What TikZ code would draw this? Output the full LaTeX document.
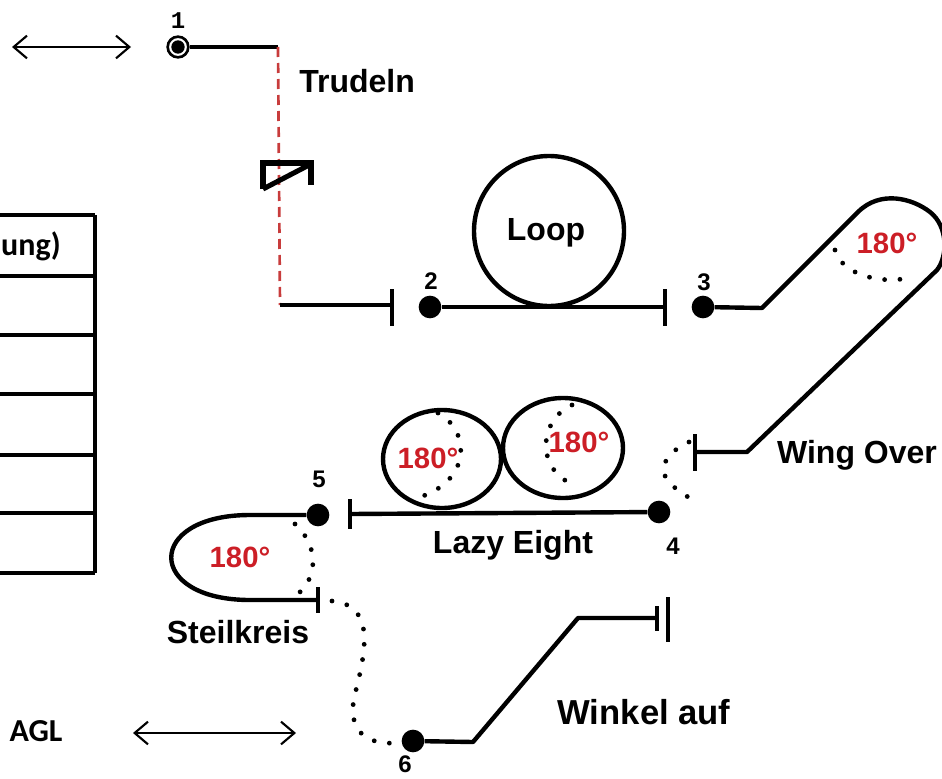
\documentclass[tikz,border=0pt]{standalone}
\usepackage{fontspec}
\setmainfont{Liberation Sans}
\setmonofont{Liberation Mono}
\newfontfamily\calfont{Carlito}
\usetikzlibrary{arrows.meta}
\definecolor{figred}{RGB}{204,30,38}
\definecolor{dashred}{RGB}{200,60,60}
\tikzset{
  flight/.style={line width=3.3pt},
  endbar/.style={line width=3.6pt},
  wpt/.style={circle,fill=black,inner sep=0pt,minimum size=17pt},
  dotarc/.style={line width=3.6pt,line cap=round,dash pattern=on 0pt off 11.5pt},
  figlabel/.style={font=\fontsize{24}{28}\selectfont\bfseries,inner sep=0.75pt},
  deg/.style={font=\fontsize{22}{26}\selectfont\bfseries,text=figred,inner sep=0.75pt},
  numlabel/.style={font=\fontsize{18}{21}\selectfont\bfseries,inner sep=0.75pt},
  gridline/.style={line width=2.3pt},
  span/.style={line width=1.6pt,{Straight Barb[length=10pt,width=17pt,line width=1.6pt]}-{Straight Barb[length=10pt,width=17pt,line width=1.6pt]}}
}
\begin{document}
\begin{tikzpicture}[x=0.75pt,y=0.75pt,yscale=-1,xscale=1]
\useasboundingbox (0,0) rectangle (942,778);

%Table (left, cut off)
\draw [gridline] (95,215) -- (95,573) ;
\foreach \yy in {215,276,335,394,455,513,573}
  \draw [gridline] (0,\yy) -- (95,\yy) ;
\node [font=\fontsize{24}{28}\selectfont\calfont\bfseries,anchor=east,inner sep=0pt] (hdr) at (61,246) {ung)};
\node [font=\fontsize{24}{28}\selectfont\calfont\bfseries,inner sep=0pt] (agl) at (36,731) {AGL};

%Altitude arrows
\coordinate (topl) at (12,47) ;
\coordinate (topr) at (131,47) ;
\draw [span] (topl) -- (topr) ;
\coordinate (botl) at (133,733) ;
\coordinate (botr) at (296,733) ;
\draw [span] (botl) -- (botr) ;

%Waypoints
\node [wpt,minimum size=10pt] (p1) at (178,47) {};
\node [circle,draw,line width=2pt,minimum size=15.5pt,inner sep=0pt] (p1ring) at (178,47) {};
\node [wpt] (p2) at (430,307) {};
\node [wpt] (p3) at (703,307) {};
\node [wpt] (p4) at (659,512) {};
\node [wpt] (p5) at (318,515) {};
\node [wpt] (p6) at (413,741) {};

% Number labels
\node [numlabel,font=\fontsize{18}{21}\selectfont\ttfamily\bfseries] (n1) at (178,21) {1};
\node [numlabel] (n2) at (431,281) {2};
\node [numlabel] (n3) at (704,282) {3};
\node [numlabel] (n4) at (673,546) {4};
\node [numlabel] (n5) at (319,479) {5};
\node [numlabel] (n6) at (405,764) {6};

%Trudeln
\coordinate (s1) at (278,47) ;
\coordinate (s2) at (280,305) ;
\coordinate (s3) at (392,305) ;
\draw [flight] (p1ring) -- (s1) ;
\draw [dashred,line width=2pt,dash pattern=on 7.5pt off 4.5pt] (s1) -- (s2) ;
\draw [flight] (s2) -- (s3) ;
\draw [endbar] (392,289) -- (392,326) ;
%Spin symbol
\draw [line width=3.8pt,line join=miter] (263,189) -- (263,163) -- (311,163) -- (311,185) ;
\draw [line width=3.8pt] (263,189) -- (311,164) ;
\node [figlabel,anchor=west] (trudeln) at (298,81) {Trudeln};

%Loop
\coordinate (l1) at (665,307) ;
\draw [flight] (p2) -- (l1) ;
\draw [endbar] (665,289) -- (665,326) ;
\draw [flight] (549,231) circle [radius=75] ;
\node [figlabel] (loop) at (546,233) {Loop};

%Wing Over
\coordinate (w1) at (762,308) ;
\coordinate (w2) at (858,212) ;
\coordinate (w3) at (937,270) ;
\coordinate (w4) at (747,452) ;
\coordinate (w5) at (695,452) ;
\draw [flight,line join=round] (p3) -- (w1) -- (w2) .. controls (880,190) and (912,198) .. (930,212) .. controls (948,226) and (948,256) .. (w3) -- (w4) -- (w5) ;
\draw [endbar] (695,434) -- (695,471) ;
\draw [dotarc] (835,250) .. controls (842,276) and (885,285) .. (912,277) ;
\node [deg] (degw) at (887,243) {180°};
\node [figlabel] (wingover) at (857,455) {Wing Over};
\draw [dotarc] (689,442) .. controls (655,458) and (658,480) .. (682,492) .. controls (692,498) and (690,505) .. (685,510) ;

%Lazy Eight
\coordinate (e1) at (350,514) ;
\draw [flight] (p4) -- (e1) ;
\draw [endbar] (350,499) -- (350,529) ;
\draw [flight] (442,459) ellipse [x radius=59,y radius=49] ;
\draw [flight] (563,448) ellipse [x radius=60,y radius=50] ;
\draw [dotarc] (438,413) .. controls (470,430) and (472,480) .. (420,497) ;
\draw [dotarc] (572,405) .. controls (538,420) and (535,472) .. (577,486) ;
\node [deg] (degl) at (428,458) {180°};
\node [deg] (degr) at (579,442) {180°};
\node [figlabel] (lazy) at (513,545) {Lazy Eight};

%Steilkreis
\coordinate (k1) at (250,515) ;
\coordinate (k2) at (250,600) ;
\coordinate (k3) at (318,600) ;
\draw [flight] (p5) -- (k1) .. controls (145,515) and (145,600) .. (k2) -- (k3) ;
\draw [endbar] (318,587) -- (318,613) ;
\draw [dotarc] (295,524) .. controls (318,545) and (318,575) .. (300,592) ;
\node [deg] (degs) at (240,557) {180°};
\node [figlabel] (steil) at (238,632) {Steilkreis};
\draw [dotarc] (332,601) .. controls (375,605) and (366,650) .. (356,690) .. controls (346,725) and (360,745) .. (396,743) ;

%Winkel auf
\coordinate (a1) at (473,742) ;
\coordinate (a2) at (578,618) ;
\coordinate (a3) at (657,618) ;
\draw [flight,line join=round] (p6) -- (a1) -- (a2) -- (a3) ;
\draw [endbar] (657,606) -- (657,631) ;
\draw [endbar] (668,597) -- (668,642) ;
\node [figlabel,font=\fontsize{26}{30}\selectfont\bfseries] (winkel) at (644,712) {Winkel auf};

\end{tikzpicture}
\end{document}
